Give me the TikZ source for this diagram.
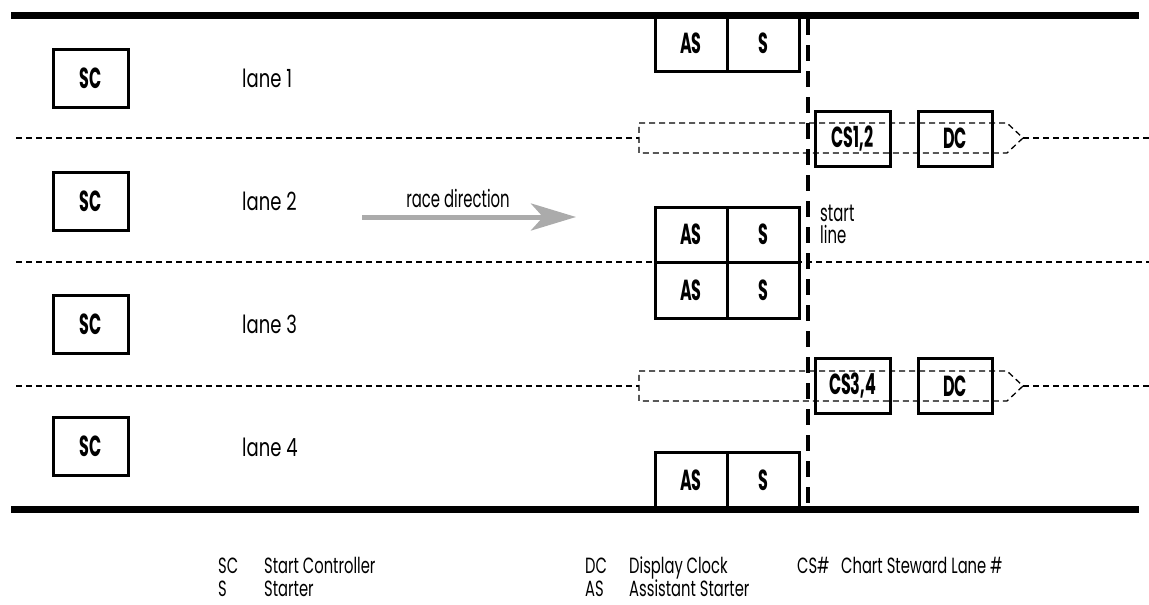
\documentclass[tikz,border=0pt]{standalone}
\usepackage{fontspec}
\setmainfont[FakeStretch=0.62]{Poppins}
\newfontfamily\legfont[FakeStretch=0.67]{Poppins}
\newfontfamily\lanefont[FakeStretch=0.72]{Poppins}
\newfontfamily\boxfont[FakeStretch=0.55]{Poppins}
\usetikzlibrary{arrows.meta}
\begin{document}
\begin{tikzpicture}[x=1pt,y=-1pt,
  stbox/.style={draw, line width=3pt, inner sep=0pt, font=\boxfont\bfseries\fontsize{29}{31}\selectfont},
  scbox/.style={stbox, minimum width=75pt, minimum height=58pt},
  asbox/.style={stbox, minimum width=72pt},
  csbox/.style={stbox, minimum width=75pt, minimum height=55pt},
  lanetxt/.style={anchor=west, inner sep=0pt, font=\lanefont\fontsize{25}{28}\selectfont},
  legtxt/.style={anchor=base west, inner sep=0pt, font=\legfont\fontsize{22}{24}\selectfont},
  laneline/.style={line width=1.3pt, dash pattern=on 6pt off 4pt},
  edgeline/.style={line width=7pt},
  startline/.style={line width=4.5pt, dash pattern=on 16pt off 10pt},
  racearrow/.style={line width=5pt, color=black!33, -{Stealth[length=45pt, width=27pt, inset=12pt]}}
]
\useasboundingbox (0,0) rectangle (1149,605);

% lane lines
\coordinate (l1a) at (16,138);   \coordinate (l1b) at (639,138);
\coordinate (l1c) at (1023,138); \coordinate (l1d) at (1149,138);
\coordinate (l2a) at (16,262);   \coordinate (l2b) at (1149,262);
\coordinate (l3a) at (16,386);   \coordinate (l3b) at (639,386);
\coordinate (l3c) at (1023,386); \coordinate (l3d) at (1149,386);
\draw[laneline] (l1a) -- (l1b);
\draw[laneline] (l1c) -- (l1d);
\draw[laneline] (l2a) -- (l2b);
\draw[laneline] (l3a) -- (l3b);
\draw[laneline] (l3c) -- (l3d);

% chart steward zones
\draw[laneline] (639,123) -- (1007,123) -- (1023,138) -- (1007,153) -- (639,153) -- cycle;
\draw[laneline] (639,371) -- (1007,371) -- (1023,386) -- (1007,401) -- (639,401) -- cycle;

% edges of course
\coordinate (t1) at (11,15.5);  \coordinate (t2) at (1139,15.5);
\coordinate (b1) at (11,509);   \coordinate (b2) at (1139,509);
\draw[edgeline] (t1) -- (t2);
\draw[edgeline] (b1) -- (b2);

% start line
\coordinate (s1) at (808,19);  \coordinate (s2) at (808,506);
\draw[startline] (s1) -- (s2);
\node[anchor=north west, inner sep=0pt, align=left, font=\fontsize{24}{22}\selectfont] (stl) at (820,205) {start\\line};

% start controllers
\node[scbox] (sc1) at (90.5,78) {SC};
\node[scbox] (sc2) at (90.5,201) {SC};
\node[scbox] (sc3) at (90.5,324) {SC};
\node[scbox] (sc4) at (90.5,446) {SC};

% lane labels
\node[lanetxt] (ln1) at (242,78) {lane 1};
\node[lanetxt] (ln2) at (242,201) {lane 2};
\node[lanetxt] (ln3) at (242,324) {lane 3};
\node[lanetxt] (ln4) at (242,447) {lane 4};

% race direction
\coordinate (ra1) at (362,217);
\coordinate (ra2) at (576,217);
\draw[racearrow] (ra1) -- (ra2);
\node[inner sep=0pt, font=\fontsize{24}{26}\selectfont] (rd) at (458,198) {race direction};

% assistant starters and starters
\node[asbox, minimum height=56pt] (as1) at (691,43) {AS};
\node[asbox, minimum height=56pt] (st1) at (763,43) {S};
\node[asbox, minimum height=55pt] (as2) at (691,234.5) {AS};
\node[asbox, minimum height=55pt] (st2) at (763,234.5) {S};
\node[asbox, minimum height=56pt] (as3) at (691,290) {AS};
\node[asbox, minimum height=56pt] (st3) at (763,290) {S};
\node[asbox, minimum height=57pt] (as4) at (691,480.5) {AS};
\node[asbox, minimum height=57pt] (st4) at (763,480.5) {S};

% chart stewards and display clocks
\node[csbox] (cs12) at (852.5,138.5) {CS1,2};
\node[csbox, minimum width=74pt] (dc1) at (955,138.5) {DC};
\node[csbox] (cs34) at (852.5,386) {CS3,4};
\node[csbox, minimum width=74pt] (dc2) at (955,386) {DC};

% legend
\node[legtxt] (k1) at (218,573) {SC};
\node[legtxt] (k1t) at (264,573) {Start Controller};
\node[legtxt] (k2) at (218,596) {S};
\node[legtxt] (k2t) at (264,596) {Starter};
\node[legtxt] (k3) at (585,573) {DC};
\node[legtxt] (k3t) at (629,573) {Display Clock};
\node[legtxt] (k4) at (585,596) {AS};
\node[legtxt] (k4t) at (629,596) {Assistant Starter};
\node[legtxt] (k5) at (797,573) {CS\#};
\node[legtxt] (k5t) at (841,573) {Chart Steward Lane \#};
\end{tikzpicture}
\end{document}
